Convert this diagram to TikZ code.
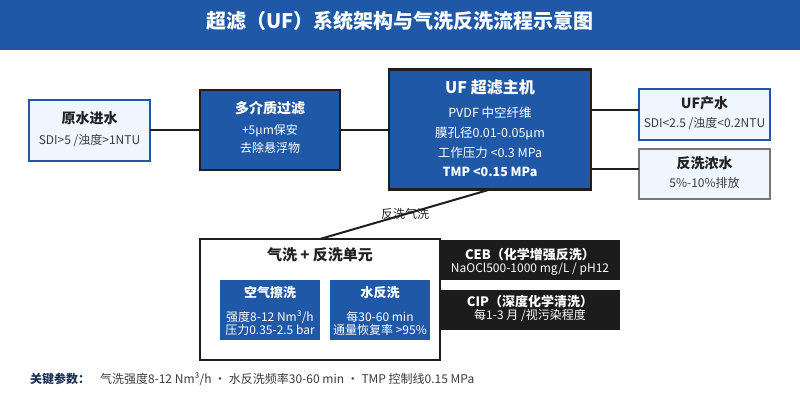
\documentclass[tikz,border=0pt]{standalone}
\usepackage{fontspec}
\setmainfont{Noto Sans CJK SC}
\definecolor{ufblue}{RGB}{31,88,166}
\definecolor{lightfill}{RGB}{239,246,255}
\definecolor{darkline}{RGB}{30,30,30}
\definecolor{graybd}{RGB}{120,120,120}
\definecolor{blackbox}{RGB}{28,28,28}
\definecolor{txtdark}{RGB}{34,34,34}
\definecolor{txtsub}{RGB}{60,60,60}
\definecolor{navy}{RGB}{30,50,85}
\newcommand{\fs}[1]{\fontsize{#1}{#1}\selectfont}
\begin{document}
\begin{tikzpicture}[x=1pt,y=-1pt,
  every node/.style={inner sep=0pt, outer sep=0pt},
  txt/.style={text height=0.88em, text depth=0.12em},
  lightbox/.style={draw=ufblue, line width=2pt, fill=lightfill},
  graybox/.style={draw=graybd, line width=2pt, fill=lightfill},
  bluebox/.style={draw=darkline, line width=2.5pt, fill=ufblue},
  innerbox/.style={fill=ufblue},
  blkbox/.style={fill=blackbox},
  unitbox/.style={draw=darkline, line width=2pt, fill=white},
  conn/.style={draw=darkline, line width=2pt},
  ttl/.style={txt, font=\fs{14}\bfseries, text=txtdark},
  sub/.style={txt, font=\fs{12}, text=txtsub},
  wttl/.style={txt, font=\fs{14}\bfseries, text=white},
  wsub/.style={txt, font=\fs{12.5}, text=white},
  lbl/.style={txt, font=\fs{12}, text=txtdark}
]
\useasboundingbox (0,0) rectangle (800,400);
\fill[white] (0,0) rectangle (800,400);

% title bar
\node[fill=ufblue, minimum width=800pt, minimum height=50pt, anchor=north west] (bar) at (0,0) {};
\node[txt, font=\fs{20}\bfseries, text=white] (title) at (400,25) {超滤（UF）系统架构与气洗反洗流程示意图};

% boxes
\node[lightbox, minimum width=121pt, minimum height=61pt] (raw) at (89.5,130) {};
\node[bluebox, minimum width=140pt, minimum height=80pt] (mmf) at (270,130) {};
\node[bluebox, minimum width=202pt, minimum height=120pt] (uf) at (490,129.5) {};
\node[lightbox, minimum width=131pt, minimum height=51pt] (prod) at (704.5,114.5) {};
\node[graybox, minimum width=131pt, minimum height=50pt] (conc) at (704.5,174) {};
\node[unitbox, minimum width=240pt, minimum height=121pt] (unit) at (320,299.5) {};
\node[innerbox, minimum width=100pt, minimum height=60pt] (air) at (270,310) {};
\node[innerbox, minimum width=100pt, minimum height=60pt] (water) at (380,310) {};
\node[blkbox, minimum width=180pt, minimum height=40pt] (ceb) at (530,260) {};
\node[blkbox, minimum width=180pt, minimum height=40pt] (cip) at (530,310) {};

% connectors
\draw[conn] (raw.east) -- (mmf.west);
\draw[conn] (mmf.east) -- (uf.west |- mmf.east);
\draw[conn] (uf.east |- 0,110) coordinate (ufp) -- (prod.west |- ufp);
\draw[conn] (uf.east |- 0,169) coordinate (ufc) -- (conc.west |- ufc);
\draw[conn] (uf.south) -- node[lbl] (lblbw) {反洗气洗} (unit.north);

% texts: raw
\node[ttl] (rawt) at (89.5,119.5) {原水进水};
\node[sub] (raws) at (89.5,141) {SDI>5 /浊度>1NTU};
% mmf
\node[wttl] (mmft) at (270,110) {多介质过滤};
\node[wsub, font=\fs{12}] (mmf1) at (270,130.5) {+5μm保安};
\node[wsub, font=\fs{12}] (mmf2) at (270,149) {去除悬浮物};
% uf
\node[wttl, font=\fs{16}\bfseries] (uft) at (490,90) {UF 超滤主机};
\node[wsub] (uf1) at (490,113.5) {PVDF 中空纤维};
\node[wsub] (uf2) at (490,134) {膜孔径0.01-0.05μm};
\node[wsub] (uf3) at (490,153.5) {工作压力 <0.3 MPa};
\node[wsub, font=\fs{12.5}\bfseries] (uf4) at (490,172.5) {TMP <0.15 MPa};
% prod
\node[ttl] (prodt) at (704.5,104.5) {UF产水};
\node[sub] (prods) at (704.5,123.5) {SDI<2.5 /浊度<0.2NTU};
% conc
\node[ttl] (conct) at (704.5,165) {反洗浓水};
\node[sub] (concs) at (704.5,183.5) {5\%-10\%排放};
% unit
\node[ttl, font=\fs{15}\bfseries] (unitt) at (320,256.5) {气洗 + 反洗单元};
\node[wttl, font=\fs{13}\bfseries] (airt) at (270,294) {空气擦洗};
\node[wsub, font=\fs{12}] (air1) at (270,317.5) {强度8-12 Nm³/h};
\node[wsub, font=\fs{12}] (air2) at (270,331) {压力0.35-2.5 bar};
\node[wttl, font=\fs{13}\bfseries] (watt) at (380,294) {水反洗};
\node[wsub, font=\fs{12}] (wat1) at (380,317.5) {每30-60 min};
\node[wsub, font=\fs{12}] (wat2) at (380,331) {通量恢复率 >95\%};
% ceb / cip
\node[wttl, font=\fs{13}\bfseries] (cebt) at (530,256) {CEB（化学增强反洗）};
\node[wsub, font=\fs{12}] (cebs) at (530,268.5) {NaOCl500-1000 mg/L / pH12};
\node[wttl, font=\fs{13}\bfseries] (cipt) at (530,303) {CIP（深度化学清洗）};
\node[wsub, font=\fs{12}] (cips) at (530,315.5) {每1-3 月 /视污染程度};

% footer
\node[txt, font=\fs{12}\bfseries, text=navy, anchor=west] (keyl) at (30,380) {关键参数：};
\node[txt, font=\fs{12}, text=txtsub, anchor=west] (keyt) at (100,380) {气洗强度8-12 Nm³/h · 水反洗频率30-60 min · TMP 控制线0.15 MPa};
\end{tikzpicture}
\end{document}
